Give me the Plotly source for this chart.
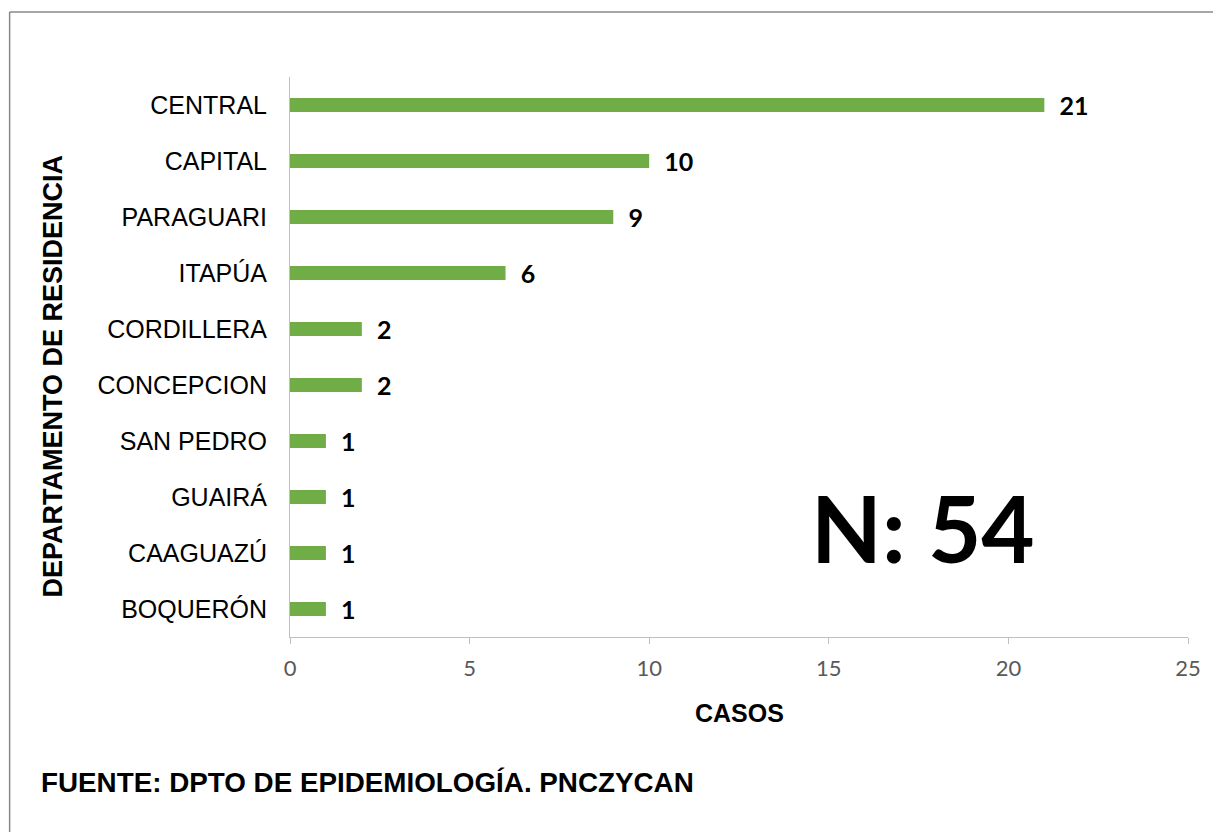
import plotly.graph_objects as go

departamentos = ["CENTRAL", "CAPITAL", "PARAGUARI", "ITAPÚA", "CORDILLERA",
                 "CONCEPCION", "SAN PEDRO", "GUAIRÁ", "CAAGUAZÚ", "BOQUERÓN"]
casos = [21, 10, 9, 6, 2, 2, 1, 1, 1, 1]
x_ticks = [0, 5, 10, 15, 20, 25]

fig = go.Figure()
fig.add_trace(go.Bar(
    y=departamentos, x=casos, orientation="h",
    width=0.25,
    marker=dict(color="#70AD47", line=dict(width=0)),
    text=casos, texttemplate="  %{x}", textposition="outside",
    constraintext="none",
    textfont=dict(family="Lato", size=25, color="#000000", weight="bold"),
    cliponaxis=False, showlegend=False, hoverinfo="skip",
))

W, H = 1213, 832
L, R, T, B = 290, 23, 77, 195
pw, ph = W - L - R, H - T - B

def px(x):
    return (x - L) / pw

def py(y):
    return (H - B - y) / ph

fig.update_layout(
    width=W, height=H,
    margin=dict(l=L, r=R, t=T, b=B),
    plot_bgcolor="white", paper_bgcolor="white",
    xaxis=dict(range=[0, 25], tickvals=x_ticks, showgrid=False, zeroline=False,
               showline=True, linecolor="#bfbfbf", linewidth=1,
               ticks="outside", ticklen=6, tickcolor="#bfbfbf",
               ticklabelstandoff=6,
               tickfont=dict(family="Lato", size=22, color="#595959")),
    yaxis=dict(categoryorder="array", categoryarray=departamentos[::-1],
               range=[-0.5, 9.5], showgrid=False, zeroline=False,
               showline=True, linecolor="#bfbfbf", linewidth=1, ticks="",
               tickfont=dict(family="Liberation Sans", size=25, color="#000"),
               ticklabelstandoff=17),
    bargap=0.75,
)

# axis titles
fig.add_annotation(xref="paper", yref="paper", x=px(740), y=py(713),
                   text="<b>CASOS</b>", showarrow=False,
                   font=dict(family="Liberation Sans", size=25, color="#000"),
                   xanchor="center", yanchor="middle")
fig.add_annotation(xref="paper", yref="paper", x=px(52), y=py(376),
                   text="<b>DEPARTAMENTO DE RESIDENCIA</b>", showarrow=False,
                   textangle=-90,
                   font=dict(family="Liberation Sans", size=27, color="#000"),
                   xanchor="center", yanchor="middle")

fig.add_annotation(xref="paper", yref="paper", x=px(924), y=py(527),
                   text="<b>N: 54</b>", showarrow=False,
                   font=dict(family="Lato", size=92, color="#000"),
                   xanchor="center", yanchor="middle")
fig.add_annotation(xref="paper", yref="paper", x=px(38), y=py(782),
                   text="<b>FUENTE: DPTO DE EPIDEMIOLOGÍA. PNCZYCAN</b>", showarrow=False,
                   font=dict(family="Liberation Sans", size=27.8, color="#000"),
                   xanchor="left", yanchor="middle")

# chart border
fig.add_shape(type="line", xref="paper", yref="paper",
              x0=px(9), x1=px(1300), y0=py(12), y1=py(12),
              line=dict(color="#888888", width=1.5))
fig.add_shape(type="line", xref="paper", yref="paper",
              x0=px(9), x1=px(9), y0=py(12), y1=py(900),
              line=dict(color="#888888", width=1.5))

fig.write_html("out.html", config={"displayModeBar": False},
               post_script="document.body.style.margin='0';document.body.style.overflow='hidden';")
